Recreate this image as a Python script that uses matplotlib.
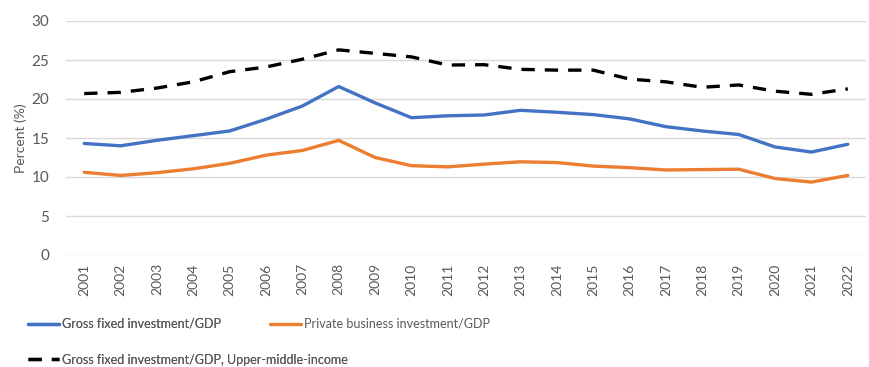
import matplotlib
matplotlib.use("Agg")
import matplotlib.pyplot as plt

years = [str(y) for y in range(2001, 2023)]
gross_fixed = [14.3, 14.0, 14.7, 15.3, 15.9, 17.4, 19.1, 21.6, 19.5, 17.6,
               17.85, 17.95, 18.55, 18.3, 18.0, 17.45, 16.45, 15.9, 15.45, 13.85,
               13.2, 14.2]
private_business = [10.6, 10.2, 10.55, 11.05, 11.75, 12.8, 13.4, 14.7, 12.5, 11.45,
                    11.3, 11.65, 11.95, 11.85, 11.4, 11.2, 10.9, 10.95, 11.0, 9.8,
                    9.35, 10.2]
gross_fixed_umi = [20.7, 20.85, 21.4, 22.2, 23.5, 24.1, 25.1, 26.3, 25.85, 25.4,
                   24.35, 24.4, 23.8, 23.7, 23.7, 22.55, 22.2, 21.5, 21.8, 21.0,
                   20.6, 21.3]
series_labels = ["Gross fixed investment/GDP",
                 "Private business investment/GDP",
                 "Gross fixed investment/GDP, Upper-middle-income"]

plt.rcParams["font.family"] = ["Lato", "DejaVu Sans"]
grey = "#595959"
blue = "#4472C4"
orange = "#ED7D31"

fig = plt.figure(figsize=(8.69, 3.67), dpi=100)
ax = fig.add_axes([66 / 869, 1 - 255 / 367, 800 / 869, 234 / 367])

x = range(len(years))
l1, = ax.plot(x, gross_fixed, color=blue, lw=2.4, solid_capstyle="round")
l2, = ax.plot(x, private_business, color=orange, lw=2.4, solid_capstyle="round")
l3, = ax.plot(x, gross_fixed_umi, color="black", lw=2.4, dashes=(4, 3))

ax.set_xlim(-0.5, len(years) - 0.5)
ax.set_ylim(0, 30)
ax.set_yticks(range(0, 31, 5))
ax.set_xticks(list(x))
ax.set_xticklabels(years, rotation=90)
ax.tick_params(axis="both", length=0, colors=grey)
ax.tick_params(axis="y", pad=12, labelsize=11)
ax.tick_params(axis="x", pad=6, labelsize=10)
ax.grid(axis="y", color="#d9d9d9", lw=1)
ax.set_axisbelow(True)
for s in ax.spines.values():
    s.set_visible(False)
ax.set_ylabel("Percent (%)", color=grey, fontsize=10, labelpad=3)

legend_kw = dict(loc="upper left", frameon=False, prop={"size": 9},
                 labelcolor=grey, handlelength=2.5, handletextpad=0.2,
                 borderaxespad=0, borderpad=0)
leg_left = fig.legend([l1, l3], [series_labels[0], series_labels[2]],
                      bbox_to_anchor=(28 / 869, 1 - 318 / 367),
                      labelspacing=1.9, **legend_kw)
fig.legend([l2], [series_labels[1]],
           bbox_to_anchor=(270 / 869, 1 - 318 / 367), **legend_kw)
fig.add_artist(leg_left)

fig.savefig("out.png", dpi=100)
